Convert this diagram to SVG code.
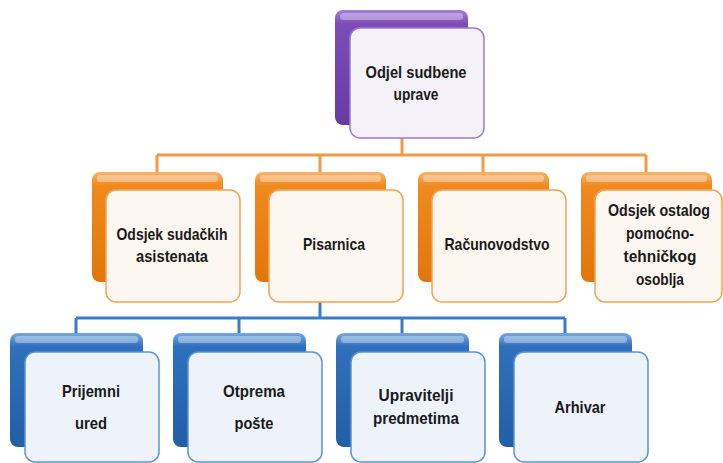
<svg xmlns="http://www.w3.org/2000/svg" width="723" height="463" viewBox="0 0 723 463">
<defs>
<linearGradient id="gP" x1="0" y1="0" x2="0" y2="1"><stop offset="0" stop-color="#a57fd6"/><stop offset="0.12" stop-color="#7d4cb8"/><stop offset="1" stop-color="#6a3aa3"/></linearGradient>
<linearGradient id="gO" x1="0" y1="0" x2="0" y2="1"><stop offset="0" stop-color="#f9b46e"/><stop offset="0.12" stop-color="#f08a1e"/><stop offset="1" stop-color="#e2760c"/></linearGradient>
<linearGradient id="gB" x1="0" y1="0" x2="0" y2="1"><stop offset="0" stop-color="#78a9e0"/><stop offset="0.12" stop-color="#2f70bc"/><stop offset="1" stop-color="#235ea6"/></linearGradient>
</defs>
<style>
.bk{stroke:none}
.gl{fill:#ffffff;fill-opacity:0.35}
.fp{fill:#f4f1f9;stroke:#9a7ccc;stroke-width:1.5}
.fo{fill:#fdf7f1;stroke:#f3a257;stroke-width:1.5}
.fb{fill:#eef3fa;stroke:#5d93d2;stroke-width:1.5}
.t{font-family:"Liberation Sans Narrow","Liberation Sans",Arial,sans-serif;font-weight:bold;font-size:17px;fill:#1a1a1a;text-anchor:middle}
.s{font-size:16px}
.co{fill:none;stroke:#f29a45;stroke-width:3}
.cb{fill:none;stroke:#3d7cc4;stroke-width:3}
</style>
<g id="connectors">
<path class="co" d="M402,138V155M157,155H646M157,155V172M320,155V172M483,155V172M646,155V172"/>
<path class="cb" d="M320,302V318M76,318H565M76,318V333M239,318V333M402,318V333M565,318V333"/>
</g>
<g id="n-odjel">
<rect class="bk" x="335" y="10" width="133" height="115" rx="8" fill="url(#gP)"/>
<rect class="gl" x="340" y="13" width="123" height="7" rx="3"/>
<rect class="fp" x="350" y="28" width="134" height="110" rx="10"/>
<text class="t" x="416" y="78" textLength="101" lengthAdjust="spacingAndGlyphs">Odjel sudbene</text>
<text class="t" x="416" y="100" textLength="45" lengthAdjust="spacingAndGlyphs">uprave</text>
</g>
<g id="n-asistenti">
<rect class="bk" x="92" y="172" width="131" height="110" rx="8" fill="url(#gO)"/>
<rect class="gl" x="97" y="175" width="121" height="7" rx="3"/>
<rect class="fo" x="106" y="190" width="134" height="112" rx="10"/>
<text class="t" x="172" y="240" textLength="111" lengthAdjust="spacingAndGlyphs">Odsjek sudačkih</text>
<text class="t" x="172" y="262" textLength="72" lengthAdjust="spacingAndGlyphs">asistenata</text>
</g>
<g id="n-pisarnica">
<rect class="bk" x="255" y="172" width="131" height="110" rx="8" fill="url(#gO)"/>
<rect class="gl" x="260" y="175" width="121" height="7" rx="3"/>
<rect class="fo" x="269" y="190" width="134" height="112" rx="10"/>
<text class="t" x="334" y="250" textLength="62" lengthAdjust="spacingAndGlyphs">Pisarnica</text>
</g>
<g id="n-racunovodstvo">
<rect class="bk" x="418" y="172" width="131" height="110" rx="8" fill="url(#gO)"/>
<rect class="gl" x="423" y="175" width="121" height="7" rx="3"/>
<rect class="fo" x="432" y="190" width="134" height="112" rx="10"/>
<text class="t" x="497" y="250" textLength="105" lengthAdjust="spacingAndGlyphs">Računovodstvo</text>
</g>
<g id="n-ostalo">
<rect class="bk" x="581" y="172" width="131" height="110" rx="8" fill="url(#gO)"/>
<rect class="gl" x="586" y="175" width="121" height="7" rx="3"/>
<rect class="fo" x="595" y="190" width="127" height="112" rx="10"/>
<text class="t s" x="659" y="216" textLength="102" lengthAdjust="spacingAndGlyphs">Odsjek ostalog</text>
<text class="t s" x="660" y="239" textLength="68" lengthAdjust="spacingAndGlyphs">pomoćno-</text>
<text class="t s" x="660" y="262" textLength="73" lengthAdjust="spacingAndGlyphs">tehničkog</text>
<text class="t s" x="660" y="285" textLength="48" lengthAdjust="spacingAndGlyphs">osoblja</text>
</g>
<g id="n-prijemni">
<rect class="bk" x="10" y="333" width="133" height="114" rx="8" fill="url(#gB)"/>
<rect class="gl" x="15" y="336" width="123" height="7" rx="3"/>
<rect class="fb" x="25" y="352" width="134" height="110" rx="10"/>
<text class="t" x="91" y="397" textLength="58" lengthAdjust="spacingAndGlyphs">Prijemni</text>
<text class="t" x="91" y="429" textLength="32" lengthAdjust="spacingAndGlyphs">ured</text>
</g>
<g id="n-otprema">
<rect class="bk" x="173" y="333" width="133" height="114" rx="8" fill="url(#gB)"/>
<rect class="gl" x="178" y="336" width="123" height="7" rx="3"/>
<rect class="fb" x="188" y="352" width="134" height="110" rx="10"/>
<text class="t" x="254" y="397" textLength="62" lengthAdjust="spacingAndGlyphs">Otprema</text>
<text class="t" x="254" y="429" textLength="39" lengthAdjust="spacingAndGlyphs">pošte</text>
</g>
<g id="n-upravitelji">
<rect class="bk" x="336" y="333" width="133" height="114" rx="8" fill="url(#gB)"/>
<rect class="gl" x="341" y="336" width="123" height="7" rx="3"/>
<rect class="fb" x="351" y="352" width="134" height="110" rx="10"/>
<text class="t" x="416" y="401" textLength="75" lengthAdjust="spacingAndGlyphs">Upravitelji</text>
<text class="t" x="416" y="424" textLength="86" lengthAdjust="spacingAndGlyphs">predmetima</text>
</g>
<g id="n-arhivar">
<rect class="bk" x="499" y="333" width="133" height="114" rx="8" fill="url(#gB)"/>
<rect class="gl" x="504" y="336" width="123" height="7" rx="3"/>
<rect class="fb" x="514" y="352" width="134" height="110" rx="10"/>
<text class="t" x="580" y="413" textLength="51" lengthAdjust="spacingAndGlyphs">Arhivar</text>
</g>
</svg>
